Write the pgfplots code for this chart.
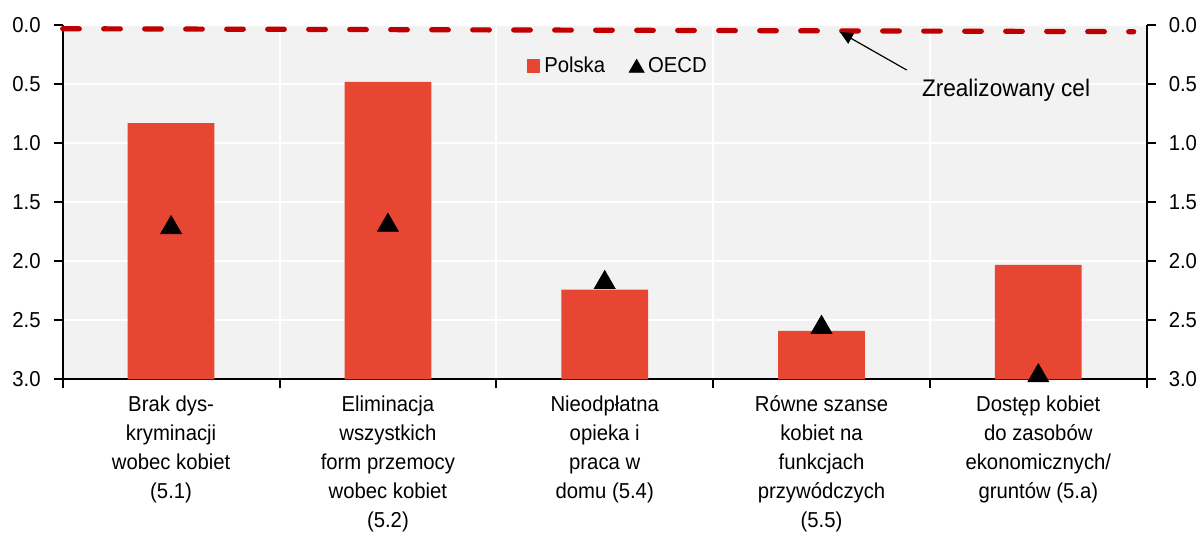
\documentclass[border=0pt]{standalone}
\usepackage{pgfplots}
\pgfplotsset{compat=1.18}
\usepackage{pgfplotstable}
\usepackage{fontspec}
\setmainfont[FakeStretch=0.94]{Liberation Sans}
\usetikzlibrary{arrows.meta}
\definecolor{barred}{RGB}{231,70,51}
\definecolor{bggrey}{RGB}{242,242,242}
\definecolor{dashred}{RGB}{192,0,0}
\pgfplotstableread{
x polska oecd
0 0.83 1.715
1 0.48 1.695
2 2.24 2.18
3 2.59 2.56
4 2.03 2.97
}\data
\newcommand{\lblfont}{\fontsize{10.8}{14.5}\selectfont}
\begin{document}
\begin{tikzpicture}
\path[use as bounding box] (-31.35pt,-76.35pt) rectangle (569.65pt,189.65pt);
\begin{axis}[
  scale only axis, width=542pt, height=177pt,
  xmin=-0.5, xmax=4.5, ymin=0, ymax=3,
  clip=false,
  axis x line*=bottom, axis y line*=left,
  axis line style={line width=1pt, black, -},
  axis background/.style={fill=bggrey},
  xtick={-0.5,0.5,1.5,2.5,3.5,4.5},
  x tick label as interval,
  xticklabels={{Brak dys-\\kryminacji\\wobec kobiet\\(5.1)},
    {Eliminacja\\wszystkich\\form przemocy\\wobec kobiet\\(5.2)},
    {Nieodpłatna\\opieka i\\praca w\\domu (5.4)},
    {Równe szanse\\kobiet na\\funkcjach\\przywódczych\\(5.5)},
    {Dostęp kobiet\\do zasobów\\ekonomicznych/\\gruntów (5.a)}},
  ytick={0,0.5,1,1.5,2,2.5,3},
  yticklabels={3.0,2.5,2.0,1.5,1.0,0.5,0.0},
  tick align=outside,
  major tick length=4.5pt,
  tick style={line width=1pt, black},
  xmajorgrids, ymajorgrids,
  grid style={white, line width=1pt},
  x tick label style={align=center, font=\lblfont},
  y tick label style={font=\lblfont, xshift=-3pt},
  legend style={at={(axis description cs:0.428,0.885)}, anchor=west, draw=none, fill=none,
    inner sep=0pt, font=\lblfont, legend columns=2,
    /tikz/every even column/.append style={column sep=10pt}},
]
\addplot[ybar, bar width=0.4, bar shift=0pt, fill=barred, draw=none,
  legend image code/.code={\fill[barred] (0pt,-3.3pt) rectangle (6.6pt,3.3pt);}]
  table[x=x, y expr=3-\thisrow{polska}] {\data};
\addlegendentry{Polska}
\addplot[only marks, mark=triangle*, mark size=6pt, black,
  legend image code/.code={\draw[only marks, mark=triangle*, mark size=4.3pt, black] plot coordinates {(4pt,-1pt)};}]
  table[x=x, y expr=3-\thisrow{oecd}] {\data};
\addlegendentry{OECD}
\addplot[dashred, line width=2.6pt, dash pattern=on 8.3pt off 12.2pt, line cap=round, forget plot]
  table[x=x, y expr=3-\thisrow{y}] {
x y
-0.5 0.029
4.44 0.054
};
\node[anchor=base west, inner sep=0pt, font=\fontsize{12}{14}\selectfont] at (axis cs:3.462,2.395) {Zrealizowany cel};
\draw[-{Triangle[length=6.5pt,width=6pt]}, line width=0.6pt] (axis cs:3.393,2.621) -- (axis cs:3.085,2.943);
\end{axis}
\begin{axis}[
  scale only axis, width=542pt, height=177pt,
  xmin=-0.5, xmax=4.5, ymin=0, ymax=3,
  axis x line=none, axis y line*=right,
  axis line style={line width=1pt, black, -},
  ytick={0,0.5,1,1.5,2,2.5,3},
  yticklabels={3.0,2.5,2.0,1.5,1.0,0.5,0.0},
  tick align=outside,
  major tick length=4.5pt,
  tick style={line width=1pt, black},
  y tick label style={font=\lblfont, xshift=3pt},
]
\addplot[draw=none, forget plot] coordinates {(0,0)};
\end{axis}
\end{tikzpicture}
\end{document}
